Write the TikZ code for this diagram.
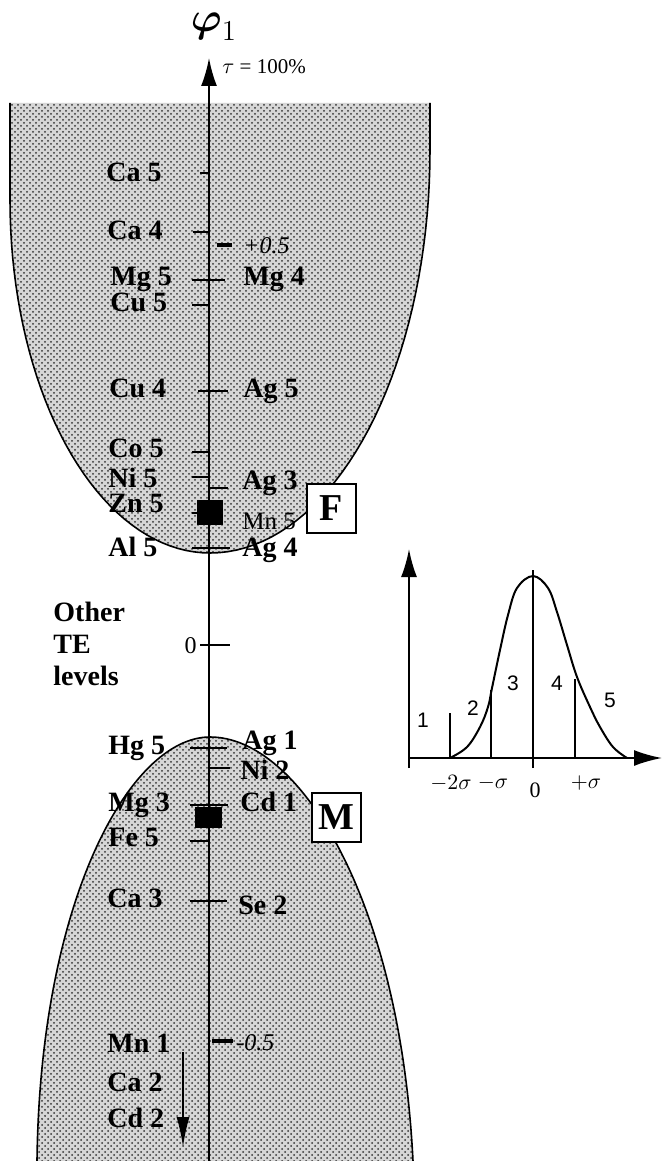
\documentclass[tikz,border=0pt]{standalone}
\usepackage{amsmath}
\usepackage{fontspec}
\setmainfont{Liberation Serif}
\newfontfamily\insetfont{Liberation Sans}
\usepackage{tikz}
\usetikzlibrary{arrows.meta,patterns}

\begin{document}
\begin{tikzpicture}[x=0.5pt,y=-0.5pt,
  region/.style={preaction={fill=gray!32},pattern=crosshatch dots,pattern color=black!80},
  rim/.style={line width=0.8pt},
  axisline/.style={line width=1pt,-{Latex[length=14pt,width=8pt]}},
  tick/.style={line width=1.1pt},
  halftick/.style={line width=2pt},
  elt/.style={font=\fontsize{14}{16}\selectfont\bfseries,anchor=west,inner sep=0pt,text height=9.3pt,text depth=0pt},
  eltthin/.style={font=\fontsize{12.5}{14}\selectfont,anchor=west,inner sep=0pt,text height=8.2pt,text depth=0pt},
  val/.style={font=\fontsize{12}{14}\selectfont\itshape,anchor=west,inner sep=0pt,text height=8pt,text depth=0pt},
  tag/.style={draw,fill=white,line width=1pt,minimum size=24.5pt,inner sep=0pt,font=\fontsize{19}{20}\selectfont\bfseries},
  blk/.style={fill=black,inner sep=0pt},
  zone/.style={font=\insetfont\fontsize{10.5}{12}\selectfont,inner sep=0pt},
  sig/.style={font=\fontsize{11}{12}\selectfont,inner sep=0pt}]
\useasboundingbox (0,0) rectangle (662,1161);
\path[region] (10,103) -- (10,200) -- plot[domain=0:90,samples=40] ({210-200*cos(\x)},{200+353*sin(\x)}) -- plot[domain=90:0,samples=40] ({210+220*cos(\x)},{150+403*sin(\x)}) -- (430,103) -- cycle;
\draw[rim] (10,103) -- (10,200) -- plot[domain=0:90,samples=40] ({210-200*cos(\x)},{200+353*sin(\x)}) -- plot[domain=90:0,samples=40] ({210+220*cos(\x)},{150+403*sin(\x)}) -- (430,103);
\path[region] (37,1161) .. controls (40,900) and (130,737) .. (210,737) .. controls (300,737) and (400,900) .. (413,1161) -- cycle;
\draw[rim] (37,1161) .. controls (40,900) and (130,737) .. (210,737) .. controls (300,737) and (400,900) .. (413,1161);
\coordinate (axbot) at (209,1161);
\coordinate (axtop) at (209,58);
\draw[axisline] (axbot) -- (axtop);
\node[font=\fontsize{22}{24}\selectfont] (phi) at (214,27) {$\boldsymbol{\varphi}_{1}$};
\node[font=\fontsize{10.5}{12}\selectfont,anchor=west,inner sep=0pt] (tau) at (222,67) {$\tau$ = 100\%};
\draw[tick] (200,173) -- (209,173);
\draw[tick] (193,232) -- (209,232);
\draw[tick] (192,280) -- (225,280);
\draw[tick] (192,305) -- (209,305);
\draw[tick] (198,391) -- (228,391);
\draw[tick] (192,452) -- (209,452);
\draw[tick] (192,477) -- (209,477);
\draw[tick] (209,488) -- (228,488);
\draw[tick] (192,513) -- (209,513);
\draw[tick] (192,548) -- (230,548);
\draw[tick] (200,645) -- (230,645);
\draw[tick] (190,748) -- (227,748);
\draw[tick] (209,768) -- (230,768);
\draw[tick] (190,805) -- (228,805);
\draw[tick] (190,841) -- (209,841);
\draw[tick] (190,901) -- (227,901);
\draw[halftick] (217,245) -- (232,245);
\draw[halftick] (212,1041) -- (233,1041);
\node[val] (plushalf) at (243,245) {+0.5};
\node[val] (minushalf) at (236,1042) {-0.5};
\node[font=\fontsize{12}{14}\selectfont,anchor=east,inner sep=0pt] (zero) at (197,646) {0};
\node[elt] (ca5) at (106,172) {Ca 5};
\node[elt] (ca4) at (107,230) {Ca 4};
\node[elt] (mg5) at (110,276) {Mg 5};
\node[elt] (cu5) at (110,302) {Cu 5};
\node[elt] (cu4) at (109,388) {Cu 4};
\node[elt] (co5) at (108,448) {Co 5};
\node[elt] (ni5) at (108,478) {Ni 5};
\node[elt] (zn5) at (108,503) {Zn 5};
\node[elt] (al5) at (108,547) {Al 5};
\node[elt] (hg5) at (108,745) {Hg 5};
\node[elt] (mg3) at (108,802) {Mg 3};
\node[elt] (fe5) at (108,837) {Fe 5};
\node[elt] (ca3) at (107,898) {Ca 3};
\node[elt] (mn1) at (107,1043) {Mn 1};
\node[elt] (ca2) at (107,1082) {Ca 2};
\node[elt] (cd2) at (107,1118) {Cd 2};
\node[elt] (mg4) at (243,276) {Mg 4};
\node[elt] (ag5) at (243,388) {Ag 5};
\node[elt] (ag3) at (242,480) {Ag 3};
\node[eltthin] (mn5) at (242,521) {Mn 5};
\node[elt] (ag4) at (242,547) {Ag 4};
\node[elt] (ag1) at (242,740) {Ag 1};
\node[elt] (ni2) at (240,770) {Ni 2};
\node[elt] (cd1) at (240,802) {Cd 1};
\node[elt] (se2) at (238,905) {Se 2};
\node[font=\fontsize{14}{15.8}\selectfont\bfseries,align=left,anchor=north west,inner sep=0pt] (other) at (53,602) {Other\\TE\\levels};
\node[blk,minimum width=13pt,minimum height=12.5pt] (fsq) at (210,512.5) {};
\node[blk,minimum width=13.5pt,minimum height=10.5pt] (msq) at (208.5,817.5) {};
\node[tag] (fbox) at (331,508) {F};
\node[tag] (mbox) at (336,817) {M};
\coordinate (dtop) at (183,1052);
\coordinate (dtip) at (183,1147);
\draw[line width=0.9pt,-{Latex[length=15pt,width=6.5pt]}] (dtop) -- (dtip);
\coordinate (gorig) at (409,758);
\coordinate (gylow) at (409,768);
\coordinate (gytop) at (409,549);
\coordinate (gxend) at (662,758);
\draw[axisline] (gylow) -- (gytop);
\draw[axisline] (gorig) -- (gxend);
\draw[line width=1pt] plot[smooth,tension=0.6] coordinates {(450,758) (467,747) (480,727) (488,707) (492,688) (500,650) (508,615) (517,588) (533,576) (548,588) (557,612) (567,645) (577,677) (590,707) (600,727) (613,747) (627,758)};
\draw[line width=0.9pt] (450,758) -- (450,713);
\draw[line width=0.9pt] (491,758) -- (491,690);
\draw[line width=0.9pt] (533,768) -- (533,570);
\draw[line width=0.9pt] (575,758) -- (575,679);
\node[zone] (z1) at (423,720) {1};
\node[zone] (z2) at (473,708) {2};
\node[zone] (z3) at (513,683) {3};
\node[zone] (z4) at (557,683) {4};
\node[zone] (z5) at (610,700) {5};
\node[sig] (m2s) at (451,783) {$-2\sigma$};
\node[sig] (m1s) at (493,783) {$-\sigma$};
\node[sig] (s0) at (535,790) {0};
\node[sig] (p1s) at (586,783) {$+\sigma$};
\end{tikzpicture}
\end{document}
